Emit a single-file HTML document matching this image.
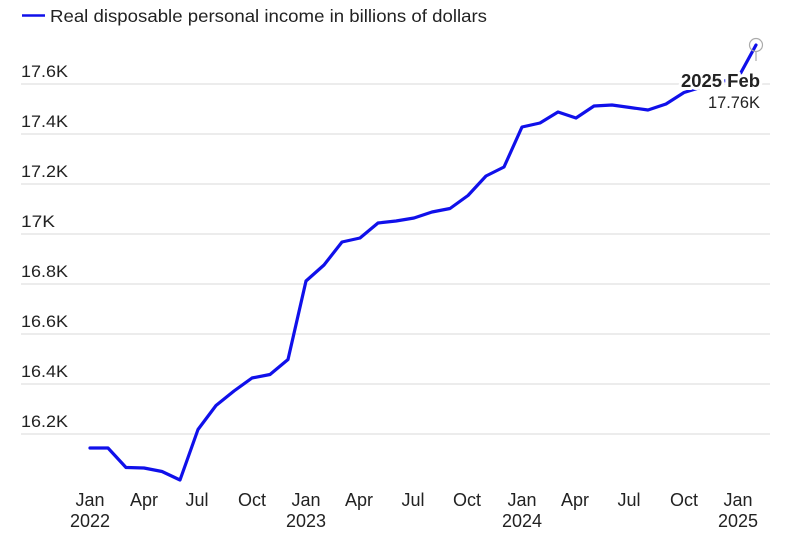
<!DOCTYPE html>
<html>
<head>
<meta charset="utf-8">
<style>
  html, body { margin:0; padding:0; background:#fff; }
  svg { display:block; }
  text { font-family: "Liberation Sans", "DejaVu Sans", sans-serif; fill:#222; }
</style>
</head>
<body>
<svg width="800" height="533" viewBox="0 0 800 533" xmlns="http://www.w3.org/2000/svg">
  <!-- legend -->
  <line x1="22" y1="15.5" x2="45" y2="15.5" stroke="#1010ea" stroke-width="2.5"/>
  <text x="50" y="22" font-size="17.5" textLength="437" lengthAdjust="spacingAndGlyphs">Real disposable personal income in billions of dollars</text>

  <!-- gridlines -->
  <g stroke="#e6e6e6" stroke-width="1.5">
    <line x1="21" y1="84" x2="770" y2="84"/>
    <line x1="21" y1="134" x2="770" y2="134"/>
    <line x1="21" y1="184" x2="770" y2="184"/>
    <line x1="21" y1="234" x2="770" y2="234"/>
    <line x1="21" y1="284" x2="770" y2="284"/>
    <line x1="21" y1="334" x2="770" y2="334"/>
    <line x1="21" y1="384" x2="770" y2="384"/>
    <line x1="21" y1="434" x2="770" y2="434"/>
  </g>

  <!-- y labels -->
  <g font-size="17">
    <text x="21" y="77" textLength="47" lengthAdjust="spacingAndGlyphs">17.6K</text>
    <text x="21" y="127" textLength="47" lengthAdjust="spacingAndGlyphs">17.4K</text>
    <text x="21" y="177" textLength="47" lengthAdjust="spacingAndGlyphs">17.2K</text>
    <text x="21" y="227" textLength="34" lengthAdjust="spacingAndGlyphs">17K</text>
    <text x="21" y="277" textLength="47" lengthAdjust="spacingAndGlyphs">16.8K</text>
    <text x="21" y="327" textLength="47" lengthAdjust="spacingAndGlyphs">16.6K</text>
    <text x="21" y="377" textLength="47" lengthAdjust="spacingAndGlyphs">16.4K</text>
    <text x="21" y="427" textLength="47" lengthAdjust="spacingAndGlyphs">16.2K</text>
  </g>

  <!-- x labels -->
  <g font-size="18" text-anchor="middle">
    <text x="90" y="506">Jan</text>
    <text x="90" y="527">2022</text>
    <text x="144" y="506">Apr</text>
    <text x="197" y="506">Jul</text>
    <text x="252" y="506">Oct</text>
    <text x="306" y="506">Jan</text>
    <text x="306" y="527">2023</text>
    <text x="359" y="506">Apr</text>
    <text x="413" y="506">Jul</text>
    <text x="467" y="506">Oct</text>
    <text x="522" y="506">Jan</text>
    <text x="522" y="527">2024</text>
    <text x="575" y="506">Apr</text>
    <text x="629" y="506">Jul</text>
    <text x="684" y="506">Oct</text>
    <text x="738" y="506">Jan</text>
    <text x="738" y="527">2025</text>
  </g>

  <!-- series -->
  <polyline fill="none" stroke="#1010ea" stroke-width="3.2" stroke-linejoin="round" stroke-linecap="round"
    points="90,448 108,448 126,467.5 144,468 162,471.5 180,480 198,429.5 216,405.5 234,391 252,378 270,374.5 288,359.5 306,281 324,265 342,242 360,238 378,223 396,221 414,218 432,212 450,208.5 468,195.5 486,176 504,167 522,127 540,123 558,112 576,118 594,106 612,105 630,107.5 648,110 666,104 684,92.5 702,87 720,82 738,78 756,45"/>

  <!-- end marker -->
  <circle cx="756" cy="45" r="6.5" fill="none" stroke="#aaa" stroke-width="1.2"/>
  <line x1="756" y1="51.5" x2="756" y2="61" stroke="#aaa" stroke-width="1.2"/>

  <!-- annotation -->
  <text x="760" y="87" font-size="18" font-weight="bold" text-anchor="end" fill="#333"
    stroke="#fff" stroke-width="6" stroke-linejoin="round" paint-order="stroke" textLength="79" lengthAdjust="spacingAndGlyphs">2025 Feb</text>
  <text x="760" y="108" font-size="17" text-anchor="end" fill="#222"
    stroke="#fff" stroke-width="5" stroke-linejoin="round" paint-order="stroke" textLength="52" lengthAdjust="spacingAndGlyphs">17.76K</text>
</svg>
</body>
</html>
